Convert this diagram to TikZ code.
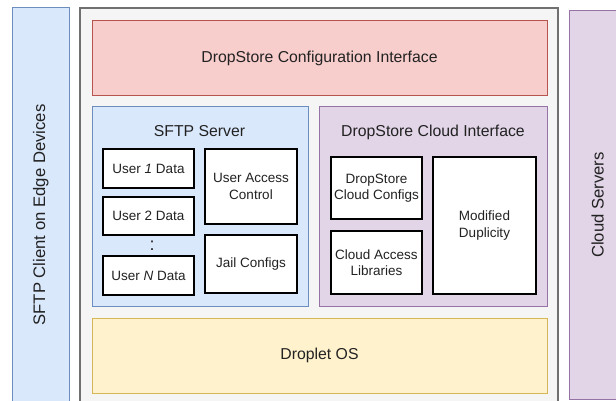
\documentclass[tikz,border=0pt]{standalone}
\usepackage{fontspec}
\setmainfont{Liberation Sans}
\definecolor{bluefill}{HTML}{DAE8FC}
\definecolor{bluedraw}{HTML}{6C8EBF}
\definecolor{redfill}{HTML}{F8CECC}
\definecolor{reddraw}{HTML}{B85450}
\definecolor{purpfill}{HTML}{E1D5E7}
\definecolor{purpdraw}{HTML}{9673A6}
\definecolor{yelfill}{HTML}{FFF2CC}
\definecolor{yeldraw}{HTML}{D6B656}
\definecolor{grayfill}{HTML}{F5F5F5}
\definecolor{graydraw}{HTML}{707070}
\definecolor{txt}{HTML}{222222}
\tikzset{
  panel/.style={draw, rectangle, inner sep=0pt, line width=1pt, text=txt,
    font=\fontsize{15.8}{18}\selectfont, align=center},
  inbox/.style={draw=black, fill=white, rectangle, inner sep=0pt, line width=1.3pt,
    text=txt, font=\fontsize{13.5}{16.5}\selectfont, align=center},
  ttl/.style={inner sep=0pt, text=txt, font=\fontsize{15.8}{18}\selectfont},
  side/.style={draw, rectangle, inner sep=0pt, line width=1pt, text=txt,
    font=\fontsize{16.7}{19}\selectfont, rotate=90},
}
\begin{document}
\begin{tikzpicture}[x=1pt,y=-1pt]
\useasboundingbox (0,0) rectangle (616,401);
% side strips
\node[side, fill=bluefill, draw=bluedraw, minimum width=414pt, minimum height=56.5pt]
  (client) at (40.75,215) {SFTP Client on Edge Devices};
\node[side, fill=purpfill, draw=purpdraw, minimum width=388pt, minimum height=57.5pt]
  (cloud) at (597.75,205) {Cloud Servers};
% outer container
\node[draw=graydraw, fill=grayfill, line width=1.2pt, rectangle, inner sep=0pt,
  minimum width=478pt, minimum height=432pt] (droplet) at (319,224) {};
% config interface
\node[panel, fill=redfill, draw=reddraw, minimum width=455pt, minimum height=75pt]
  (config) at (319.5,58.5) {DropStore Configuration Interface};
% SFTP server
\node[panel, fill=bluefill, draw=bluedraw, minimum width=216pt, minimum height=199pt]
  (sftp) at (200,206.5) {};
\node[ttl] (sftpt) at (199.5,131.5) {SFTP Server};
% Cloud interface
\node[panel, fill=purpfill, draw=purpdraw, minimum width=228pt, minimum height=199pt]
  (cif) at (433,206.5) {};
\node[ttl] (cift) at (433,132) {DropStore Cloud Interface};
% Droplet OS
\node[panel, fill=yelfill, draw=yeldraw, minimum width=455pt, minimum height=75pt]
  (os) at (319.5,355.5) {Droplet OS};
% SFTP inner boxes
\node[inbox, minimum width=91pt, minimum height=39pt] (u1) at (148.5,168.5) {User \textit{1} Data};
\node[inbox, minimum width=91pt, minimum height=38pt] (u2) at (148.5,216) {User 2 Data};
\node[inbox, minimum width=91pt, minimum height=39pt] (un) at (148.5,275.5) {User \textit{N} Data};
\node[inner sep=0pt, text=txt, font=\fontsize{18}{20}\selectfont] (dots) at (152,245.5) {:};
\node[inbox, minimum width=92pt, minimum height=75pt] (uac) at (251,186.5) {User Access\\Control};
\node[inbox, minimum width=92pt, minimum height=58pt] (jail) at (251,264) {Jail Configs};
% Cloud inner boxes
\node[inbox, minimum width=91pt, minimum height=62pt] (dcc) at (376.5,188) {DropStore\\Cloud Configs};
\node[inbox, minimum width=91pt, minimum height=63pt] (cal) at (376.5,262.5) {Cloud Access\\Libraries};
\node[inbox, minimum width=103pt, minimum height=137pt] (md) at (484.5,225.5) {Modified\\Duplicity};
\end{tikzpicture}
\end{document}
